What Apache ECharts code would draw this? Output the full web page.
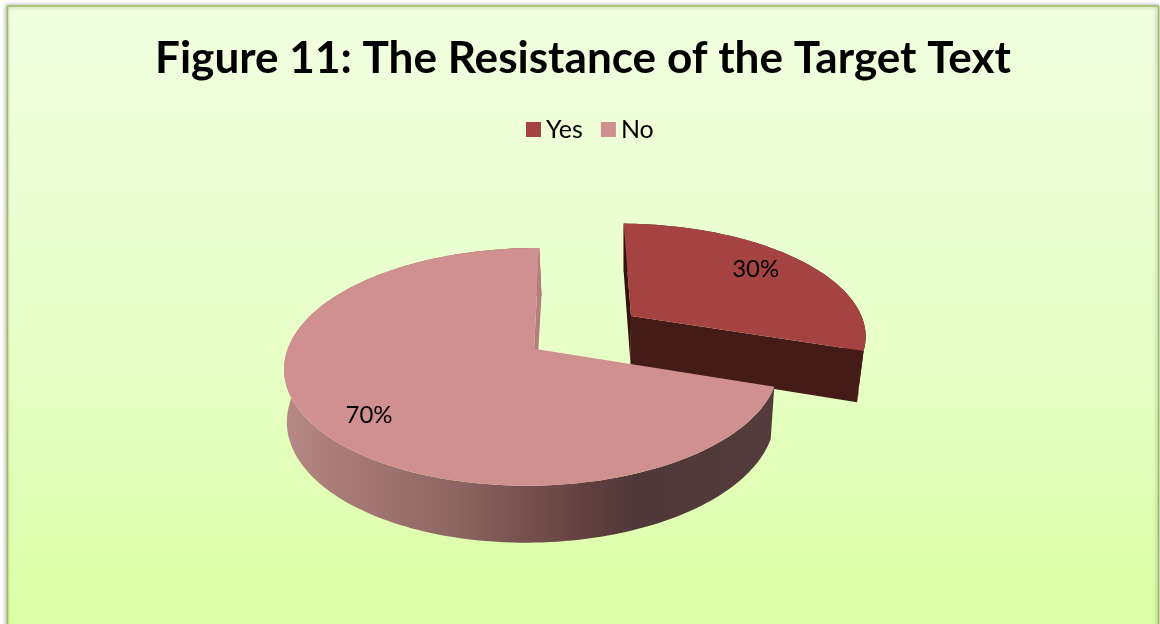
<!DOCTYPE html>
<html>
<head>
<meta charset="utf-8">
<style>html,body{margin:0;padding:0;background:#fff}#c{width:1160px;height:624px}</style>
<script src="https://cdn.jsdelivr.net/npm/echarts@6/dist/echarts.min.js"></script>
</head>
<body>
<div id="c"></div>
<script>
var categories = ['Yes', 'No'];
var values = [30, 70];
var chartTitle = 'Figure 11: The Resistance of the Target Text';
var topColors = ['#A54342', '#D09090'];

// Perspective set-up of the disc: world unit circle -> screen
var worldRef = [[0, -1], [0, 1], [0.951, 0.309], [-1, 0]];
var topRef = [[539.3, 248], [527, 485.7], [774.3, 386.7], [288, 348]];
var bottomRef = [[541.5, 296], [527, 542.7], [770.7, 439], [291.5, 398]];
var explode = [0.505, 0];
var labelRadius = [0.72, 0.82];
var labelNudge = [[1, -5], [14, 6]];

function solveH(src, dst) {
  var m = [];
  for (var i = 0; i < 4; i++) {
    var x = src[i][0], y = src[i][1], u = dst[i][0], v = dst[i][1];
    m.push([x, y, 1, 0, 0, 0, -u * x, -u * y, u]);
    m.push([0, 0, 0, x, y, 1, -v * x, -v * y, v]);
  }
  for (var c = 0; c < 8; c++) {
    var p = c;
    for (var r = c + 1; r < 8; r++) if (Math.abs(m[r][c]) > Math.abs(m[p][c])) p = r;
    var t = m[c]; m[c] = m[p]; m[p] = t;
    for (var r2 = 0; r2 < 8; r2++) {
      if (r2 === c) continue;
      var f = m[r2][c] / m[c][c];
      for (var k = c; k < 9; k++) m[r2][k] -= f * m[c][k];
    }
  }
  return m.map(function (row, i) { return row[8] / row[i]; });
}
var HT = solveH(worldRef, topRef);
var HB = solveH(worldRef, bottomRef);
function proj(H, x, y) {
  var w = H[6] * x + H[7] * y + 1;
  return [(H[0] * x + H[1] * y + H[2]) / w, (H[3] * x + H[4] * y + H[5]) / w];
}
var total = values.reduce(function (a, b) { return a + b; }, 0);

function renderSlice(idx) {
  return function (params, api) {
    var v = api.value(0);
    var before = 0;
    for (var i = 0; i < idx; i++) before += values[i];
    var a0 = before / total * Math.PI * 2;
    var a1 = (before + v) / total * Math.PI * 2;
    var mid = (a0 + a1) / 2;
    var ox = explode[idx] * Math.sin(mid), oy = -explode[idx] * Math.cos(mid);
    function W(a, r) { return [ox + r * Math.sin(a), oy - r * Math.cos(a)]; }
    function T(a, r) { var w = W(a, r); return proj(HT, w[0], w[1]); }
    function B(a, r) { var w = W(a, r); return proj(HB, w[0], w[1]); }
    var n = Math.max(8, Math.round((a1 - a0) / (Math.PI / 120)));
    var topPts = [T(a0, 0)], rimT = [], rimB = [];
    for (var s = 0; s <= n; s++) {
      var a = a0 + (a1 - a0) * s / n;
      var pt = T(a, 1), pb = B(a, 1);
      topPts.push(pt); rimT.push(pt); rimB.push(pb);
    }
    var children = [];
    var rimFill = idx === 0 ? '#451B18' : {
      type: 'linear', x: 0, y: 0, x2: 1, y2: 0,
      colorStops: [
        { offset: 0, color: '#B78885' },
        { offset: 0.08, color: '#AD7F7B' },
        { offset: 0.35, color: '#8D6562' },
        { offset: 0.62, color: '#623F3F' },
        { offset: 0.72, color: '#503838' },
        { offset: 1, color: '#553C3C' }
      ]
    };
    // rim wall
    children.push({
      type: 'polygon', silent: true,
      shape: { points: rimT.concat(rimB.slice().reverse()) },
      style: { fill: rimFill }
    });
    if (idx === 0) {
      // side wall at the start edge and the front wall at the end edge
      children.push({
        type: 'polygon', silent: true,
        shape: { points: [T(a0, 1), B(a0, 1), B(a0, 0), T(a0, 0)] },
        style: { fill: '#33120F' }
      });
      children.push({
        type: 'polygon', silent: true,
        shape: { points: [T(a1, 0), T(a1, 1), B(a1, 1), B(a1, 0)] },
        style: { fill: '#451B18' }
      });
    } else {
      // the wall at the end edge of the full turn faces the gap
      children.push({
        type: 'polygon', silent: true,
        shape: { points: [T(a1, 1), B(a1, 1), B(a1, 0), T(a1, 0)] },
        style: { fill: '#B27F7D' }
      });
    }
    // top face
    children.push({
      type: 'polygon', silent: true,
      shape: { points: topPts },
      style: { fill: topColors[idx] }
    });
    var lp = T(mid, labelRadius[idx]);
    children.push({
      type: 'text', silent: true,
      style: {
        text: Math.round(v / total * 100) + '%',
        x: lp[0] + labelNudge[idx][0], y: lp[1] + labelNudge[idx][1], fill: '#000',
        font: '24px Lato', align: 'center', verticalAlign: 'middle'
      }
    });
    return { type: 'group', children: children };
  };
}

var chart = echarts.init(document.getElementById('c'), null, { renderer: 'canvas' });
chart.setOption({
  animation: false,
  backgroundColor: '#ffffff',
  title: {
    text: chartTitle, left: 150, top: 32,
    textStyle: { fontFamily: 'Lato', fontWeight: 'bold', fontSize: 44.1, color: '#000' }
  },
  legend: {
    data: categories, left: 521, top: 112, itemWidth: 15, itemHeight: 15, itemGap: 18,
    icon: 'rect', selectedMode: false,
    textStyle: { fontFamily: 'Lato', fontSize: 25, color: '#000' }
  },
  graphic: [{
    type: 'rect', silent: true, z: -10,
    shape: { x: 7.5, y: 6, width: 1151, height: 625 },
    style: {
      fill: {
        type: 'linear', x: 0, y: 0, x2: 0, y2: 1,
        colorStops: [{ offset: 0, color: '#F1FFE0' }, { offset: 0.5, color: '#E9FFCB' }, { offset: 0.98, color: '#DCFFA6' }]
      },
      stroke: '#A3BC62', lineWidth: 1.5,
      shadowBlur: 4, shadowColor: 'rgba(0,0,0,0.35)', shadowOffsetX: -1
    }
  }],
  series: categories.map(function (name, i) {
    return {
      type: 'custom', name: name, coordinateSystem: 'none',
      itemStyle: { color: topColors[i] },
      data: [[values[i]]],
      renderItem: renderSlice(i),
      silent: true, z: 2 + i
    };
  })
});
</script>
</body>
</html>
